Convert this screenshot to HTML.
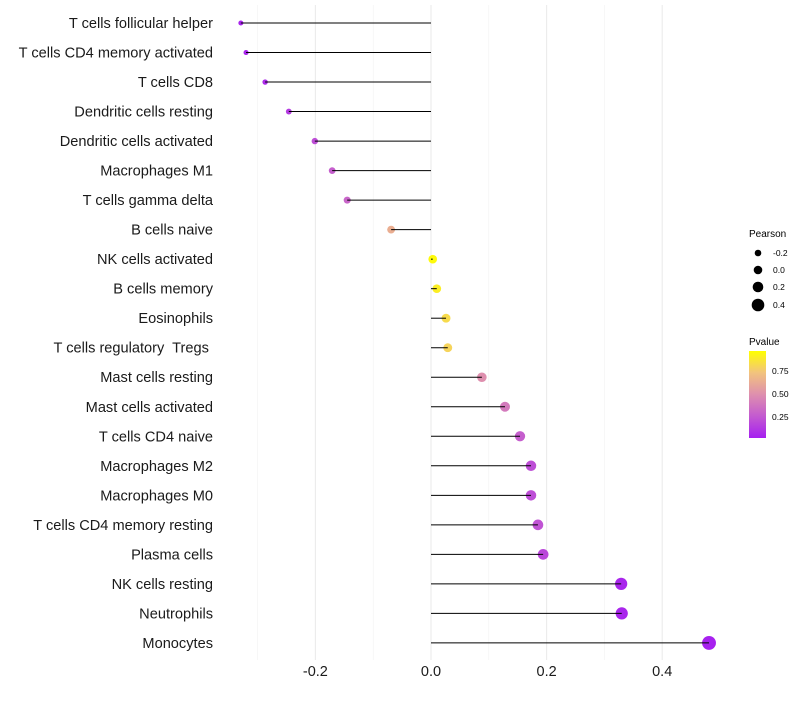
<!DOCTYPE html>
<html><head><meta charset="utf-8"><style>
body{margin:0;background:#fff;font-family:"Liberation Sans",sans-serif}
text{white-space:pre}
</style></head><body>
<svg id="chart" width="800" height="700" xmlns="http://www.w3.org/2000/svg">
<defs><linearGradient id="pg" x1="0" y1="1" x2="0" y2="0">
<stop offset="0" stop-color="#a61ff0"/><stop offset="0.25" stop-color="#c35ad0"/><stop offset="0.5" stop-color="#de8fae"/><stop offset="0.75" stop-color="#f2c37e"/><stop offset="1" stop-color="#ffff00"/></linearGradient></defs>
<g id="grid"></g><g id="dots"></g><g id="marks"></g><g id="ylabels"></g><g id="xlabels"></g>
<g font-size="10">
<text x="749" y="237" fill="#000">Pearson</text>
<circle cx="758" cy="253" r="3.3" fill="#000"/><text x="773" y="256" font-size="8.5">-0.2</text>
<circle cx="758" cy="270" r="4.3" fill="#000"/><text x="773" y="273" font-size="8.5">0.0</text>
<circle cx="758" cy="287" r="5.3" fill="#000"/><text x="773" y="290" font-size="8.5">0.2</text>
<circle cx="758" cy="305" r="6.3" fill="#000"/><text x="773" y="308" font-size="8.5">0.4</text>
</g>
<g font-size="10">
<text x="749" y="345" fill="#000">Pvalue</text>
<rect x="749" y="351" width="17" height="87" fill="url(#pg)"/>
<text x="772" y="374" font-size="8.5">0.75</text>
<text x="772" y="397" font-size="8.5">0.50</text>
<text x="772" y="420" font-size="8.5">0.25</text>
</g>
</svg>
<script>
const categories=["T cells follicular helper","T cells CD4 memory activated","T cells CD8","Dendritic cells resting","Dendritic cells activated","Macrophages M1","T cells gamma delta","B cells naive","NK cells activated","B cells memory","Eosinophils","T cells regulatory  Tregs ","Mast cells resting","Mast cells activated","T cells CD4 naive","Macrophages M2","Macrophages M0","T cells CD4 memory resting","Plasma cells","NK cells resting","Neutrophils","Monocytes"];
const pearson=[-0.329,-0.320,-0.287,-0.246,-0.201,-0.171,-0.145,-0.069,0.003,0.010,0.026,0.029,0.088,0.128,0.154,0.173,0.173,0.185,0.194,0.329,0.330,0.481];
const pvalues=[0.02,0.03,0.05,0.12,0.2,0.27,0.3,0.65,0.98,0.93,0.85,0.82,0.5,0.4,0.27,0.2,0.2,0.22,0.17,0.03,0.03,0.01];
const xTicks=[-0.2,0,0.2,0.4];
const xTickLabels=["-0.2","0.0","0.2","0.4"];
const minorTicks=[-0.3,-0.1,0.1,0.3];
const NS="http://www.w3.org/2000/svg";
const X=v=>431+v*578;
const Y=i=>23+i*29.52;
const R=v=>Math.max(1.3,4.3+5.5*v);
const stops=[[0,[166,31,240]],[0.25,[195,90,208]],[0.5,[222,143,174]],[0.75,[242,195,126]],[1,[255,255,0]]];
function col(p){for(let i=1;i<stops.length;i++){if(p<=stops[i][0]){const a=stops[i-1],b=stops[i],t=(p-a[0])/(b[0]-a[0]);return "rgb("+a[1].map((c,k)=>Math.round(c+(b[1][k]-c)*t)).join(",")+")";}}return "rgb(255,255,0)";}
function mk(t,a,p){const e=document.createElementNS(NS,t);for(const k in a)e.setAttribute(k,a[k]);p.appendChild(e);return e;}
const grid=document.getElementById('grid'),dots=document.getElementById('dots'),marks=document.getElementById('marks'),yl=document.getElementById('ylabels'),xl=document.getElementById('xlabels');
minorTicks.forEach(v=>{const l=mk('line',{x1:X(v),x2:X(v),y1:5,y2:660,stroke:'#f2f2f2','stroke-width':0.6},grid);

});
xTicks.forEach((v,i)=>{const l=mk('line',{x1:X(v),x2:X(v),y1:5,y2:660,stroke:'#ebebeb','stroke-width':1.1},grid);


const t=mk('text',{x:X(v),y:676,'text-anchor':'middle','font-size':14.5,fill:'#1a1a1a'},xl);t.textContent=xTickLabels[i];

});
categories.forEach((c,i)=>{const y=Y(i);
const d=mk('circle',{cx:X(pearson[i]),cy:y,r:R(pearson[i]),fill:col(pvalues[i])},dots);


const l=mk('line',{x1:X(0),x2:X(pearson[i]),y1:y,y2:y,stroke:'#000','stroke-width':1},marks);


const t=mk('text',{x:213,y:y+5,'text-anchor':'end','font-size':14.6,fill:'#1a1a1a'},yl);t.textContent=c;

});
</script>
</body></html>
